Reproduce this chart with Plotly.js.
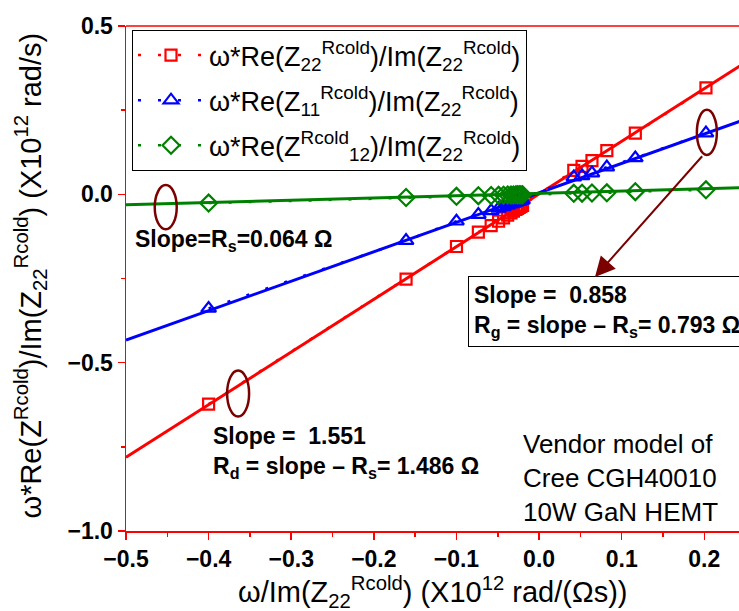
<!DOCTYPE html>
<html>
<head>
<meta charset="utf-8">
<script src="https://cdn.plot.ly/plotly-3.0.1.min.js"></script>
<style>html,body{margin:0;padding:0;background:#fff;}#chart{width:739px;height:611px;}</style>
</head>
<body>
<div id="chart"></div>
<script>
// x: omega/Im(Z22 Rcold) (x1e12 rad/(Ohm s))
const xVals = [-0.400, -0.161, -0.100, -0.0735, -0.058, -0.049, -0.043, -0.038, -0.034, -0.031, -0.028, -0.026, -0.024, -0.022, -0.020, 0.042, 0.052, 0.064, 0.082, 0.1165, 0.202];
const z22Vals = [-0.623, -0.252, -0.155, -0.112, -0.093, -0.080, -0.070, -0.062, -0.055, -0.050, -0.045, -0.042, -0.039, -0.036, -0.033, 0.071, 0.083, 0.100, 0.130, 0.182, 0.316];
const z11Vals = [-0.339, -0.1375, -0.080, -0.060, -0.049, -0.042, -0.037, -0.033, -0.029, -0.027, -0.024, -0.022, -0.021, -0.019, -0.017, 0.051, 0.055, 0.063, 0.081, 0.108, 0.182];
const z12Vals = [-0.026, -0.0095, -0.006, -0.004, -0.0035, -0.003, -0.0025, -0.002, -0.002, -0.0018, -0.0015, -0.0013, -0.0012, -0.001, -0.001, 0.003, 0.0035, 0.004, 0.0045, 0.008, 0.0134];
// linear fit lines (end points)
const fitX = [-0.5, 0.25];
const fitZ22 = [-0.781, 0.392];
const fitZ11 = [-0.433, 0.223];
const fitZ12 = [-0.031, 0.020];
const seriesNames = [
  'ω*Re(Z<sub>22</sub><sup>Rcold</sup>)/Im(Z<sub>22</sub><sup>Rcold</sup>)',
  'ω*Re(Z<sub>11</sub><sup>Rcold</sup>)/Im(Z<sub>22</sub><sup>Rcold</sup>)',
  'ω*Re(Z<sup>Rcold</sup><sub>12</sub>)/Im(Z<sub>22</sub><sup>Rcold</sup>)'
];
const xTitle = 'ω/Im(Z<sub>22</sub><sup>Rcold</sup>) (X10<sup>12</sup> rad/(Ωs))';
const yTitle = 'ω*Re(Z<sup>Rcold</sup>)/Im(Z<sub>22</sub><sup>Rcold</sup>) (X10<sup>12</sup> rad/s)';

const RED = '#ff0000', BLUE = '#0000ff', GREEN = '#008000', MAROON = '#7b0000';
const FONT = 'Liberation Sans, Arial, sans-serif';

const traces = [
  {x: fitX, y: fitZ22, mode: 'lines', line: {color: RED, width: 3}, showlegend: false, hoverinfo: 'skip'},
  {x: fitX, y: fitZ11, mode: 'lines', line: {color: BLUE, width: 3}, showlegend: false, hoverinfo: 'skip'},
  {x: fitX, y: fitZ12, mode: 'lines', line: {color: GREEN, width: 3}, showlegend: false, hoverinfo: 'skip'},
  {x: xVals, y: z22Vals, name: seriesNames[0], legendgroup: 'a', mode: 'lines+markers',
   line: {color: RED, width: 2.5, dash: '3px,17px'},
   marker: {symbol: 'square-open', size: 11, color: RED, line: {width: 2.2}}},
  {x: xVals, y: z11Vals, name: seriesNames[1], legendgroup: 'b', mode: 'lines+markers',
   line: {color: BLUE, width: 2.5, dash: '3px,17px'},
   marker: {symbol: 'triangle-up-open', size: 13, color: BLUE, line: {width: 2.2}}},
  {x: xVals, y: z12Vals, name: seriesNames[2], legendgroup: 'c', mode: 'lines+markers',
   line: {color: GREEN, width: 2.5, dash: '3px,17px'},
   marker: {symbol: 'diamond-open', size: 13, color: GREEN, line: {width: 2.2}}}
];

const tickFont = {family: FONT, size: 23, color: '#000', weight: 'bold'};
const boldAnn = {family: FONT, size: 23, color: '#000', weight: 'bold'};

const layout = {
  width: 739, height: 611,
  margin: {l: 126, r: 0, t: 26, b: 80},
  paper_bgcolor: '#fff', plot_bgcolor: '#fff',
  font: {family: FONT, color: '#000'},
  showlegend: true,
  legend: {
    x: 0.0098, y: 0.992, xanchor: 'left', yanchor: 'top',
    bgcolor: '#fff', bordercolor: '#000', borderwidth: 1,
    font: {family: FONT, size: 27, color: '#000'},
    itemwidth: 66, tracegroupgap: 7
  },
  xaxis: {
    range: [-0.5, 0.242], dtick: 0.1, tick0: 0, tickformat: '.1f',
    showgrid: false, zeroline: false,
    showline: true, linecolor: RED, linewidth: 1.5,
    ticks: 'outside', ticklen: 7, tickwidth: 1.5, tickcolor: RED,
    minor: {dtick: 0.05, ticks: 'outside', ticklen: 4, tickwidth: 1.5, tickcolor: RED},
    tickfont: tickFont
  },
  yaxis: {
    range: [-1.0, 0.5], dtick: 0.5, tick0: 0, tickformat: '.1f',
    showgrid: false, zeroline: false,
    showline: true, linecolor: RED, linewidth: 1.5,
    ticks: 'outside', ticklen: 7, tickwidth: 1.5, tickcolor: RED,
    minor: {dtick: 0.25, ticks: 'outside', ticklen: 4, tickwidth: 1.5, tickcolor: RED},
    tickfont: tickFont
  },
  shapes: [
    {type: 'line', xref: 'paper', yref: 'paper', x0: 0, x1: 1, y0: 1, y1: 1, line: {color: RED, width: 1.5}},
    {type: 'circle', xref: 'x', yref: 'y', x0: -0.4652, x1: -0.4386, y0: -0.1036, y1: 0.0274, line: {color: MAROON, width: 2.5}},
    {type: 'circle', xref: 'x', yref: 'y', x0: -0.3776, x1: -0.3510, y0: -0.660, y1: -0.523, line: {color: MAROON, width: 2.5}},
    {type: 'circle', xref: 'x', yref: 'y', x0: 0.191, x1: 0.2152, y0: 0.117, y1: 0.251, line: {color: MAROON, width: 2.5}}
  ],
  annotations: [
    {xref: 'paper', yref: 'paper', x: 0.5, y: 0, yshift: -61, xanchor: 'center', yanchor: 'middle',
     showarrow: false, text: xTitle, font: {family: FONT, size: 29, color: '#000'}},
    {xref: 'paper', yref: 'paper', x: 0, y: 0.5, xshift: -96, yshift: 3, textangle: -90,
     xanchor: 'center', yanchor: 'middle', showarrow: false,
     text: yTitle, font: {family: FONT, size: 29, color: '#000'}},
    {xref: 'x', yref: 'y', x: -0.491, y: -0.1375, xanchor: 'left', yanchor: 'middle', showarrow: false,
     text: 'Slope=R<sub>s</sub>=0.064 Ω', font: boldAnn},
    {xref: 'x', yref: 'y', x: -0.397, y: -0.768, xanchor: 'left', yanchor: 'middle', showarrow: false, align: 'left',
     text: 'Slope =  1.551<br>R<sub>d</sub> = slope – R<sub>s</sub>= 1.486 Ω', font: boldAnn},
    {xref: 'x', yref: 'y', x: -0.0859, y: -0.2426, xanchor: 'left', yanchor: 'top', showarrow: false, align: 'left',
     bordercolor: '#000', borderwidth: 1, bgcolor: '#fff', borderpad: 5,
     text: 'Slope =  0.858<br>R<sub>g</sub> = slope – R<sub>s</sub>= 0.793 Ω', font: boldAnn},
    {xref: 'x', yref: 'y', x: -0.0218, y: -0.842, xanchor: 'left', yanchor: 'middle', showarrow: false, align: 'left',
     text: 'Vendor model of<br>Cree CGH40010<br>10W GaN HEMT', font: {family: FONT, size: 26, color: '#000'}},
    {xref: 'x', yref: 'y', x: 0.0677, y: -0.2455, axref: 'x', ayref: 'y', ax: 0.199, ay: 0.1176,
     text: '', showarrow: true, arrowhead: 2, arrowsize: 2, arrowwidth: 2, arrowcolor: MAROON, standoff: 0}
  ]
};

Plotly.newPlot('chart', traces, layout, {displayModeBar: false, staticPlot: true});
</script>
</body>
</html>
